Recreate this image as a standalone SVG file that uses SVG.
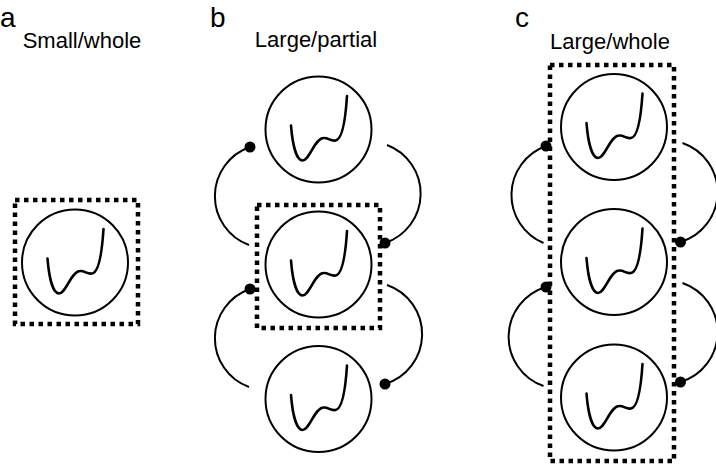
<svg xmlns="http://www.w3.org/2000/svg" xmlns:xlink="http://www.w3.org/1999/xlink" width="716" height="464" viewBox="0 0 716 464">
<style>
.lbl{font-family:"Liberation Sans",Arial,Helvetica,sans-serif;font-size:28px;fill:#000}
.ttl{font-family:"Liberation Sans",Arial,Helvetica,sans-serif;font-size:22px;fill:#000;text-anchor:middle}
.box{fill:none;stroke:#000;stroke-width:4.5;stroke-dasharray:4.5 4.5}
.ring{fill:#fff;stroke:#000;stroke-width:2}
.well{fill:none;stroke:#000;stroke-width:2.6;stroke-linecap:round;stroke-linejoin:round}
.arc{fill:none;stroke:#000;stroke-width:2}
.dot{fill:#000}
</style>
<defs>
<g id="node">
<circle class="ring" cx="0" cy="0" r="53"/>
<path class="well" d="M -27.5 -4 C -26 15, -22 31, -16 31 C -9 31, -4 9, 5 8.5 C 10 8, 12 12, 17 11 C 24 10, 27 -10, 28.5 -33.5"/>
</g>
</defs>
<g id="labels">
<text class="lbl" x="0" y="27">a</text>
<text class="lbl" x="210" y="27">b</text>
<text class="lbl" x="515" y="27">c</text>
<text class="ttl" x="82" y="48">Small/whole</text>
<text class="ttl" x="316" y="47">Large/partial</text>
<text class="ttl" x="610" y="49">Large/whole</text>
</g>
<g id="a-node"><use xlink:href="#node" x="75" y="262.5"/></g>
<g id="b-top"><use xlink:href="#node" x="318.5" y="129.5"/></g>
<g id="b-mid"><use xlink:href="#node" x="318.5" y="264.5"/></g>
<g id="b-bot"><use xlink:href="#node" x="318.5" y="399"/></g>
<g id="c-top"><use xlink:href="#node" x="614" y="127"/></g>
<g id="c-mid"><use xlink:href="#node" x="614" y="262"/></g>
<g id="c-bot"><use xlink:href="#node" x="614" y="397.5"/></g>
<g id="boxes">
<rect class="box" x="15" y="200" width="123" height="124"/>
<rect class="box" x="257" y="205" width="123" height="123"/>
<rect class="box" x="550" y="65" width="124" height="396"/>
</g>
<g id="connectors">
<path class="arc" d="M 249 245 A 52 52 0 0 1 250 147"/>
<circle class="dot" cx="250" cy="147" r="5.5"/>
<path class="arc" d="M 387 145 A 52 52 0 0 1 385 243"/>
<circle class="dot" cx="385" cy="243" r="5.5"/>
<path class="arc" d="M 249 387 A 52 52 0 0 1 250 289"/>
<circle class="dot" cx="250" cy="289" r="5.5"/>
<path class="arc" d="M 387 285 A 52 52 0 0 1 385 384"/>
<circle class="dot" cx="385" cy="384" r="5.5"/>
<path class="arc" d="M 543.5 243 A 52 52 0 0 1 546 146"/>
<circle class="dot" cx="546" cy="146" r="5.5"/>
<path class="arc" d="M 682.5 143 A 52 52 0 0 1 680.5 242"/>
<circle class="dot" cx="680.5" cy="242" r="5.5"/>
<path class="arc" d="M 543.5 386 A 52 52 0 0 1 546 287"/>
<circle class="dot" cx="546" cy="287" r="5.5"/>
<path class="arc" d="M 682.5 283 A 52 52 0 0 1 680.5 382"/>
<circle class="dot" cx="680.5" cy="382" r="5.5"/>
</g>
</svg>
